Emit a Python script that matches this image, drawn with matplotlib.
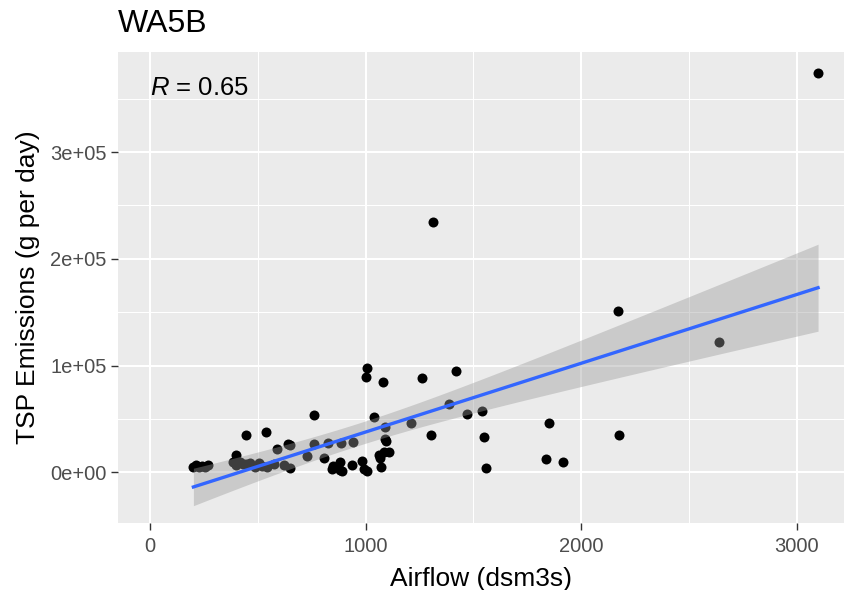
import numpy as np
import matplotlib
matplotlib.use("Agg")
import matplotlib.pyplot as plt

plt.rcParams['font.family'] = ['Liberation Sans', 'DejaVu Sans']
plt.rcParams['mathtext.fontset'] = 'custom'
plt.rcParams['mathtext.rm'] = 'Liberation Sans'
plt.rcParams['mathtext.it'] = 'Liberation Sans:italic'

# ---- data ----
airflow = [200, 212, 225, 240, 255, 268,
           385, 398, 400, 415, 430, 445, 465, 487, 505, 520, 542, 575, 619, 650,
           444, 536, 588, 640, 648, 728, 759, 762, 808, 823, 844, 850, 879, 882,
           886, 890, 937, 940, 983, 991, 1006, 999, 1006, 1078, 1037, 1091, 1090,
           1096, 1060, 1084, 1110, 1068, 1073, 1208, 1263, 1304, 1311, 1388,
           1421, 1469, 1542, 1547, 1560, 1837, 1852, 1916, 2173, 2176, 2640, 3100]
tsp = [4700, 6500, 4500, 5500, 5000, 7000,
       9500, 16000, 6500, 10000, 8000, 7500, 9000, 4500, 8500, 6000, 5000, 7800, 6600, 4400,
       35000, 37800, 21500, 26500, 25500, 15000, 54000, 26500, 13000, 27500, 3400, 5500, 9700, 1900,
       27000, 1300, 7300, 28400, 10800, 3400, 1300, 89000, 98000, 84600, 51600, 42000, 31300,
       29000, 16000, 19000, 19000, 13700, 5000, 45800, 88500, 35300, 234000, 64000,
       94800, 54700, 57300, 33300, 3600, 12300, 46300, 10000, 151000, 35000, 122500, 374000]

x_ticks = [0, 1000, 2000, 3000]
x_tick_labels = ["0", "1000", "2000", "3000"]
y_ticks = [0, 100000, 200000, 300000]
y_tick_labels = ["0e+00", "1e+05", "2e+05", "3e+05"]
x_minor = [500, 1500, 2500]
y_minor = [50000, 150000, 250000, 350000]

title = "WA5B"
x_label = "Airflow (dsm3s)"
y_label = "TSP Emissions (g per day)"
r_label = r"$R$ = 0.65"

# ---- linear fit with 95% confidence band ----
x = np.asarray(airflow, float)
y = np.asarray(tsp, float)
n = len(x)
slope, intercept = np.polyfit(x, y, 1)
resid = y - (slope * x + intercept)
s = np.sqrt(np.sum(resid ** 2) / (n - 2))
t_crit = 1.993
xs = np.linspace(x.min(), x.max(), 80)
ys = slope * xs + intercept
se = s * np.sqrt(1.0 / n + (xs - x.mean()) ** 2 / np.sum((x - x.mean()) ** 2))

# ---- figure ----
fig = plt.figure(figsize=(8.45, 5.90), dpi=100)
ax = fig.add_axes([118 / 845, 1 - 523 / 590, (845 - 118) / 845, (523 - 51.7) / 590])
ax.set_facecolor('#EBEBEB')
for sp in ax.spines.values():
    sp.set_visible(False)

ax.set_xticks(x_ticks)
ax.set_xticklabels(x_tick_labels)
ax.set_yticks(y_ticks)
ax.set_yticklabels(y_tick_labels)
ax.set_xticks(x_minor, minor=True)
ax.set_yticks(y_minor, minor=True)
ax.grid(True, which='major', color='white', linewidth=1.5)
ax.grid(True, which='minor', color='white', linewidth=0.75)
ax.set_axisbelow(True)
ax.tick_params(which='major', length=4.8, width=1.0, color='#333333',
               labelsize=14.5, labelcolor='#4D4D4D', pad=3.5)
ax.tick_params(axis='x', which='major', pad=5.5)
ax.tick_params(which='minor', length=0)

ax.plot(x, y, 'o', color='black', markersize=7.2, markeredgewidth=0, zorder=2)
ax.fill_between(xs, ys - t_crit * se, ys + t_crit * se, color='#999999', alpha=0.4,
                linewidth=0, zorder=3)
ax.plot(xs, ys, color='#3366FF', linewidth=2.4, zorder=4)

ax.text(0, 360000, r_label, fontsize=18.5, ha='left', va='center', color='black', zorder=5)

ax.set_xlim(-150, 3225)
ax.set_ylim(-47500, 394000)

ax.set_xlabel(x_label, fontsize=19, labelpad=8)
ax.set_ylabel(y_label, fontsize=19, labelpad=7)
ax.set_title(title, loc='left', fontsize=23, pad=14)

fig.savefig("out.png", dpi=100)
